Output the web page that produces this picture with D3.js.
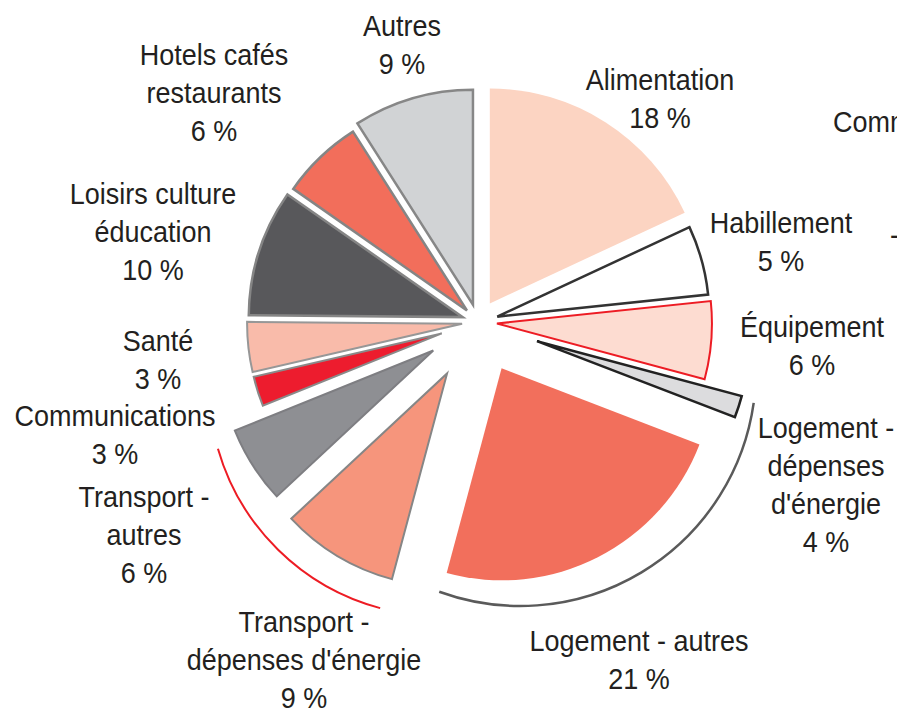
<!DOCTYPE html>
<html>
<head>
<meta charset="utf-8">
<script src="https://cdn.jsdelivr.net/npm/d3@7"></script>
<style>
  html, body { margin: 0; padding: 0; background: #fff; }
  svg text {
    font-family: "Liberation Sans Narrow", "Arial Narrow", "Liberation Sans", Arial, sans-serif;
    fill: #231f20;
  }
</style>
</head>
<body>
<div id="chart"></div>
<script>
// Postes de consommation, dans l'ordre des tranches (sens horaire depuis midi)
const categories = [
    "Alimentation", "Habillement", "Équipement",
    "Logement - dépenses d'énergie", "Logement - autres",
    "Transport - dépenses d'énergie", "Transport - autres",
    "Communications", "Santé", "Loisirs culture éducation",
    "Hotels cafés restaurants", "Autres"
];

// Pourcentages affichés dans les étiquettes
const pourcentages = [18, 5, 6, 4, 21, 9, 6, 3, 3, 10, 6, 9];

// Part de chaque tranche telle que dessinée sur l'image (en % du tour)
const partsDessinees = [18.06, 5.28, 5.83, 1.67, 23.33, 8.89, 5.83, 2.5, 3.75, 9.58, 6.25, 9.03];

// Lignes de texte des étiquettes
const lignesEtiquettes = [
    ["Alimentation"], ["Habillement"], ["Équipement"],
    ["Logement -", "dépenses", "d'énergie"], ["Logement - autres"],
    ["Transport -", "dépenses d'énergie"], ["Transport -", "autres"],
    ["Communications"], ["Santé"], ["Loisirs culture", "éducation"],
    ["Hotels cafés", "restaurants"], ["Autres"]
];

// Regroupements entourés d'un arc
const groupes = [
    { nom: "Logement", tranches: [3, 4] },
    { nom: "Transport", tranches: [5, 6] }
];

// ---- Mise en forme ----
const width = 897, height = 713;
const centre = { x: 478, y: 322 };

// éclatement (distance au centre) et rayon de chaque tranche
const eclatement = [22, 20, 19, 62, 52, 60, 53, 38, 16, 16, 16, 18];
const rayons = [215, 212, 215, 212, 212, 213, 214, 193, 215, 214, 212, 215];

const remplissages = ["#fcd4c2", "#ffffff", "#fddcd1", "#dcdcde", "#f26f5c", "#f6957c",
                      "#8e8f93", "#ed1c2e", "#f9bbaa", "#58585b", "#f26e5b", "#d1d3d5"];
const contours = ["none", "#333333", "#ed1c24", "#222222", "none", "#868686",
                  "#7e7e82", "#8a8a8a", "#979797", "#858585", "#858585", "#878787"];
const epaisseurs = [0, 2.5, 2, 2.5, 0, 2, 2, 2, 2, 2.5, 2.5, 2.5];

// arcs de regroupement : centre, rayon, marges angulaires (degrés)
const stylesGroupes = [
    { cx: 520, cy: 370, r: 236, avant: 7, apres: 5, couleur: "#5a5a5a", epaisseur: 2.5 },
    { cx: 440, cy: 385, r: 231, avant: 0, apres: 6, couleur: "#ed1c24", epaisseur: 2 }
];

// position des étiquettes : centre x, ligne de base de la première ligne
const posEtiquettes = [
    [660, 90], [781, 233], [812, 337], [826, 438], [639, 651], [304, 632],
    [144, 507], [115, 426], [158, 351], [153, 204], [214, 65], [402, 36]
];
const interligne = 38;
const taillePolice = 30;
const compression = 0.9;   // police étroite simulée

const svg = d3.select("#chart")
    .append("svg")
    .attr("width", width)
    .attr("height", height);

const pie = d3.pie()
    .sort(null)
    .value(d => d);

const arcs = pie(partsDessinees);

// Tranches
arcs.forEach((a, i) => {
    const mid = (a.startAngle + a.endAngle) / 2;
    const dx = Math.sin(mid) * eclatement[i];
    const dy = -Math.cos(mid) * eclatement[i];
    const arcGen = d3.arc().innerRadius(0).outerRadius(rayons[i]);

    svg.append("path")
        .attr("class", "tranche")
        .attr("transform", `translate(${centre.x + dx}, ${centre.y + dy})`)
        .attr("d", arcGen(a))
        .attr("fill", remplissages[i])
        .attr("stroke", contours[i])
        .attr("stroke-width", epaisseurs[i])
        .attr("stroke-linejoin", "miter");
});

// Arcs de regroupement
groupes.forEach((g, k) => {
    const st = stylesGroupes[k];
    const a0 = arcs[g.tranches[0]].startAngle - st.avant * Math.PI / 180;
    const a1 = arcs[g.tranches[g.tranches.length - 1]].endAngle + st.apres * Math.PI / 180;
    const p = d3.path();
    p.arc(st.cx, st.cy, st.r, a0 - Math.PI / 2, a1 - Math.PI / 2);
    svg.append("path")
        .attr("class", "groupe")
        .attr("d", p.toString())
        .attr("fill", "none")
        .attr("stroke", st.couleur)
        .attr("stroke-width", st.epaisseur);
});

// Étiquettes
lignesEtiquettes.forEach((lignes, i) => {
    const [x, y] = posEtiquettes[i];
    const t = svg.append("text")
        .attr("text-anchor", "middle")
        .attr("transform", `translate(${x}, 0) scale(${compression}, 1)`)
        .style("font-size", taillePolice + "px");
    lignes.concat([pourcentages[i] + " %"]).forEach((l, j) => {
        t.append("tspan")
            .attr("x", 0)
            .attr("y", y + j * interligne)
            .text(l);
    });
});

// Début du graphique voisin, coupé par le bord
svg.append("text")
    .attr("transform", `translate(833, 132) scale(${compression}, 1)`)
    .style("font-size", taillePolice + "px")
    .text("Communications");
svg.append("text")
    .attr("transform", `translate(890, 245) scale(${compression}, 1)`)
    .style("font-size", taillePolice + "px")
    .text("-");
</script>
</body>
</html>
